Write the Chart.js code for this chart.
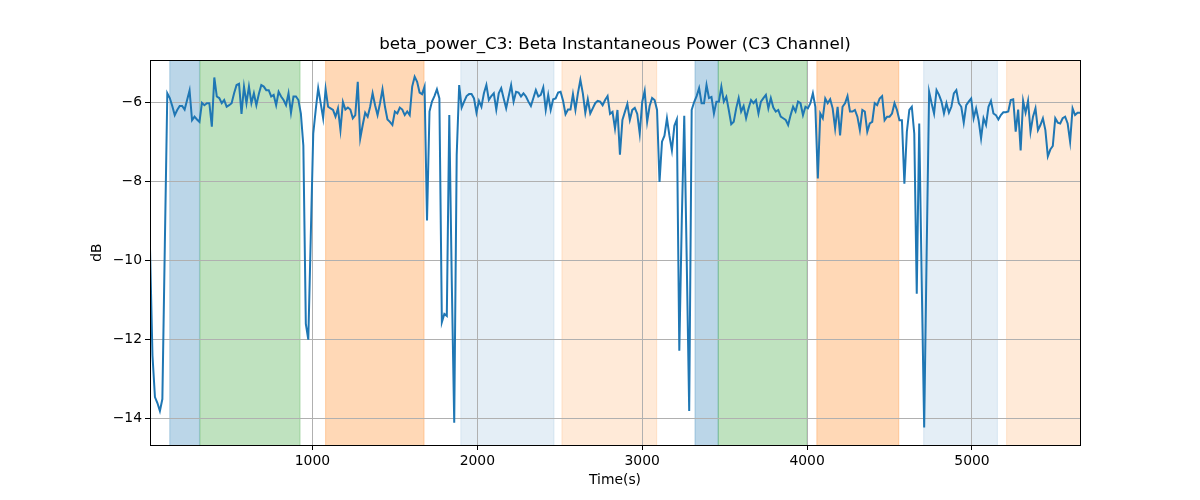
<!DOCTYPE html>
<html lang="en">
<head>
<meta charset="UTF-8">
<title>beta_power_C3</title>
<script src="https://cdn.jsdelivr.net/npm/chart.js"></script>
<style>
  html, body { margin: 0; padding: 0; background: #fff; }
  #wrap { width: 1200px; height: 500px; }
</style>
</head>
<body>
<div id="wrap"><canvas id="betaChart" width="1200" height="500"></canvas></div>
<script>
// sample times: first window centre and hop, in seconds
const T0 = 15;
const STEP = 15;

// beta power (dB), one value per window
const power = [
  -9.7, -12.4, -13.45, -13.6, -13.8, -13.5, -9.6, -5.78, -5.9, -6.1,
  -6.33, -6.2, -6.1, -6.1, -6.19, -5.95, -5.71, -6.46, -6.37, -6.44,
  -6.5, -6.02, -6.08, -6.03, -6.03, -6.62, -5.38, -5.86, -5.9, -6.03,
  -5.95, -6.12, -6.08, -6.03, -5.78, -5.57, -5.54, -6.3, -5.61, -6.03,
  -5.61, -6.03, -5.78, -6.08, -5.8, -5.57, -5.61, -5.7, -5.7, -5.86,
  -5.82, -6.08, -5.74, -5.86, -5.95, -6.08, -5.78, -6.27, -5.86, -5.86,
  -5.95, -6.29, -7.1, -11.6, -12.0, -9.4, -6.8, -6.2, -5.65, -6.03,
  -6.41, -5.67, -6.12, -6.16, -6.2, -6.37, -6.16, -6.71, -6.0, -6.19,
  -6.14, -6.19, -6.41, -6.33, -5.49, -6.92, -6.58, -6.27, -6.37, -6.12,
  -5.78, -6.08, -6.33, -6.03, -5.68, -6.12, -6.44, -6.5, -6.58, -6.24,
  -6.29, -6.14, -6.19, -6.33, -6.24, -6.33, -5.61, -5.36, -5.49, -5.76,
  -5.8, -5.61, -8.99, -6.24, -5.99, -5.85, -5.68, -5.91, -11.56, -11.35,
  -11.4, -6.33, -10.5, -14.1, -7.34, -5.57, -6.14, -5.99, -5.85, -5.8,
  -5.8, -5.91, -6.27, -5.97, -6.12, -5.78, -5.57, -5.95, -5.85, -5.78,
  -6.19, -5.78, -5.65, -5.91, -6.16, -5.86, -5.57, -5.99, -5.74, -5.76,
  -5.86, -5.78, -5.86, -5.99, -6.1, -5.9, -5.7, -5.86, -5.82, -5.63,
  -6.2, -5.82, -6.2, -5.93, -5.91, -5.76, -5.74, -5.97, -6.31, -6.19,
  -6.19, -5.8, -6.2, -5.78, -5.44, -5.78, -6.27, -5.93, -6.29, -6.16,
  -6.03, -5.97, -5.99, -6.08, -5.95, -5.85, -6.3, -6.25, -6.67, -6.2,
  -7.33, -6.45, -6.25, -6.05, -6.45, -6.2, -6.15, -6.3, -6.8, -6.0,
  -5.72, -6.5, -6.1, -5.9, -5.95, -6.2, -8.02, -7.0, -6.85, -6.41,
  -6.85, -7.22, -6.6, -6.44, -12.28, -9.0, -6.35, -10.0, -13.8, -6.2,
  -6.0, -5.85, -5.65, -6.03, -6.03, -5.57, -5.9, -5.87, -6.29, -5.99,
  -5.99, -5.61, -5.99, -5.87, -6.2, -6.56, -6.5, -6.16, -5.9, -6.24,
  -6.1, -6.41, -6.16, -5.95, -6.03, -5.95, -6.29, -5.99, -5.9, -5.82,
  -6.16, -5.9, -6.14, -6.24, -6.2, -6.37, -6.41, -6.45, -6.58, -6.33,
  -6.12, -6.24, -5.99, -6.03, -6.33, -6.12, -6.16, -6.03, -5.78, -6.12,
  -7.93, -6.29, -6.41, -5.91, -6.03, -5.93, -6.16, -6.67, -6.12, -6.84,
  -6.12, -6.03, -5.85, -6.24, -6.24, -6.2, -6.37, -6.71, -6.2, -6.24,
  -6.75, -6.54, -6.5, -6.03, -6.08, -5.91, -5.85, -6.46, -6.37, -6.37,
  -6.29, -6.03, -6.2, -6.46, -6.46, -8.06, -6.75, -6.2, -6.12, -6.8,
  -10.84, -6.54, -10.5, -14.22, -9.8, -5.74, -6.03, -6.29, -5.7, -5.82,
  -5.99, -6.29, -6.03, -6.27, -6.12, -5.78, -5.7, -6.03, -6.12, -6.52,
  -6.08, -5.99, -5.91, -6.41, -6.16, -6.46, -6.92, -6.41, -6.58, -6.12,
  -5.97, -6.29, -6.33, -6.44, -6.33, -6.26, -6.26, -6.24, -5.95, -5.93,
  -6.75, -6.19, -7.22, -5.97, -6.27, -5.97, -6.75, -6.37, -6.16, -6.71,
  -6.58, -6.41, -6.71, -7.37, -7.2, -7.11, -6.41, -6.52, -6.54, -6.41,
  -6.37, -6.54, -7.0, -6.16, -6.33, -6.27, -6.27
];

// shaded task blocks (seconds)
const spanStart = [135, 318, 1080, 1900, 2513, 3320, 3461, 4059, 4707, 5210];
const spanEnd   = [315, 925, 1677, 2465, 3088, 3461, 4000, 4556, 5154, 5700];
const spanKind  = ['blue', 'green', 'orange', 'lightblue', 'lightorange',
                   'blue', 'green', 'orange', 'lightblue', 'lightorange'];
const spanFill = {
  blue: 'rgba(31,119,180,0.3)',
  green: 'rgba(44,160,44,0.3)',
  orange: 'rgba(255,127,14,0.3)',
  lightblue: 'rgba(31,119,180,0.12)',
  lightorange: 'rgba(255,127,14,0.16)'
};

const xTicks = [1000, 2000, 3000, 4000, 5000];
const yTicks = [-14, -12, -10, -8, -6];
const Y_MIN = -14.66, Y_MAX = -4.94;

const times = power.map((_, i) => T0 + i * STEP);
const points = power.map((v, i) => ({ x: times[i], y: v }));

const FONT = 'DejaVu Sans';

// axvspan-like shading, drawn under the grid
const spans = {
  id: 'spans',
  beforeDraw(chart) {
    const { ctx, chartArea: a, scales: { x } } = chart;
    ctx.save();
    ctx.beginPath();
    ctx.rect(a.left, a.top, a.right - a.left, a.bottom - a.top);
    ctx.clip();
    for (let k = 0; k < spanStart.length; k++) {
      const x0 = x.getPixelForValue(spanStart[k]);
      const x1 = x.getPixelForValue(spanEnd[k]);
      ctx.fillStyle = spanFill[spanKind[k]];
      ctx.fillRect(x0, a.top, x1 - x0, a.bottom - a.top);
      ctx.strokeStyle = spanFill[spanKind[k]];
      ctx.lineWidth = 1;
      ctx.beginPath();
      ctx.moveTo(x0, a.top); ctx.lineTo(x0, a.bottom);
      ctx.moveTo(x1, a.top); ctx.lineTo(x1, a.bottom);
      ctx.stroke();
    }
    ctx.restore();
  }
};

// black box round the axes
const frame = {
  id: 'frame',
  afterDraw(chart) {
    const { ctx, chartArea: a } = chart;
    ctx.save();
    ctx.strokeStyle = '#000';
    ctx.lineWidth = 1;
    ctx.strokeRect(Math.round(a.left) + 0.5, Math.round(a.top) + 0.5,
      Math.round(a.right - a.left), Math.round(a.bottom - a.top));
    ctx.restore();
  }
};

new Chart(document.getElementById('betaChart'), {
  type: 'line',
  data: {
    datasets: [{
      label: 'beta_power_C3',
      data: points,
      borderColor: '#1f77b4',
      borderWidth: 2,
      pointRadius: 0,
      tension: 0,
      fill: false
    }]
  },
  options: {
    responsive: false,
    animation: false,
    devicePixelRatio: 1,
    layout: { padding: { left: 0, right: 120, top: 0, bottom: 0 } },
    plugins: {
      legend: { display: false },
      tooltip: { enabled: false },
      title: {
        display: true,
        fullSize: false,
        text: 'beta_power_C3: Beta Instantaneous Power (C3 Channel)',
        color: '#000',
        font: { family: FONT, size: 16.7, weight: 'normal' },
        padding: { top: 35, bottom: 5 }
      }
    },
    scales: {
      x: {
        type: 'linear',
        min: T0,
        max: times[times.length - 1],
        afterBuildTicks: s => { s.ticks = xTicks.map(v => ({ value: v })); },
        afterFit: s => { s.height = 55; },
        border: { display: false },
        grid: { color: '#b0b0b0', lineWidth: 1, tickLength: 5, tickColor: '#000', tickWidth: 1 },
        ticks: {
          color: '#000', padding: 3, autoSkip: false, maxRotation: 0,
          font: { family: FONT, size: 13.9 },
          callback: v => String(v)
        },
        title: {
          display: true, text: 'Time(s)', color: '#000',
          font: { family: FONT, size: 13.9 },
          padding: { top: 0, bottom: 11 }
        }
      },
      y: {
        min: Y_MIN,
        max: Y_MAX,
        afterBuildTicks: s => { s.ticks = yTicks.map(v => ({ value: v })); },
        afterFit: s => { s.width = 150; },
        border: { display: false },
        grid: { color: '#b0b0b0', lineWidth: 1, tickLength: 5, tickColor: '#000', tickWidth: 1 },
        ticks: {
          color: '#000', padding: 3,
          font: { family: FONT, size: 13.9 },
          callback: v => String(v).replace('-', '\u2212')
        },
        title: {
          display: true, text: 'dB', color: '#000',
          font: { family: FONT, size: 13.9 },
          padding: { top: 89, bottom: 0 }
        }
      }
    }
  },
  plugins: [spans, frame]
});
</script>
</body>
</html>
